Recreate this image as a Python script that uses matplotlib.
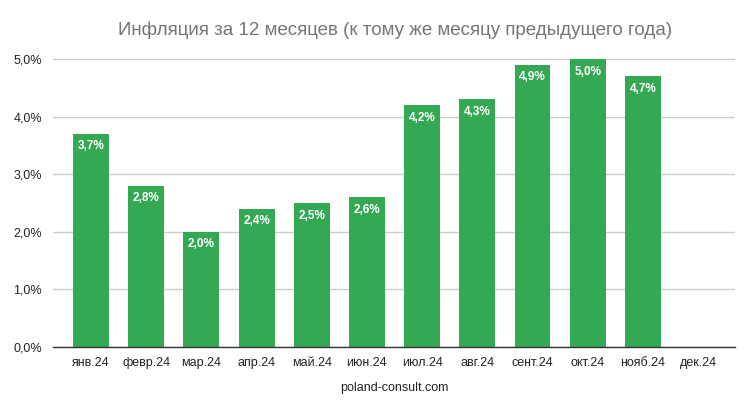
import numpy as np
import matplotlib
matplotlib.use("Agg")
import matplotlib.pyplot as plt
from matplotlib.ticker import FuncFormatter

plt.rcParams["font.family"] = ["Liberation Sans", "DejaVu Sans"]

MONTHS = ["янв.24", "февр.24", "мар.24", "апр.24", "май.24", "июн.24",
          "июл.24", "авг.24", "сент.24", "окт.24", "нояб.24", "дек.24"]
INFLATION = [3.7, 2.8, 2.0, 2.4, 2.5, 2.6, 4.2, 4.3, 4.9, 5.0, 4.7, np.nan]
Y_TICKS = [0, 1, 2, 3, 4, 5]

GREEN = "#34a853"

fig = plt.figure(figsize=(7.5, 4.13), dpi=100)
ax = fig.add_axes([53 / 750, 1 - 347 / 413, (735 - 53) / 750, (347 - 58) / 413])

x = np.arange(len(MONTHS))
bars = ax.bar(x, INFLATION, width=0.65, color=GREEN, zorder=3)

for xi, v in zip(x, INFLATION):
    if np.isnan(v):
        continue
    ax.annotate(f"{v:.1f}%".replace(".", ","), (xi, v), xytext=(0, -9),
                textcoords="offset points", ha="center", va="center",
                color="white", fontsize=8.5, fontweight="bold", zorder=4)

ax.set_xlim(-0.689, 11.67)
ax.set_ylim(0, 5.02)
ax.set_yticks(Y_TICKS)
ax.yaxis.set_major_formatter(FuncFormatter(lambda v, _: f"{v:.1f}%".replace(".", ",")))
ax.set_xticks(x)
ax.set_xticklabels(MONTHS)
ax.tick_params(axis="both", length=0, labelsize=9, colors="#222222")
ax.tick_params(axis="x", pad=7)
ax.tick_params(axis="y", pad=8)

ax.grid(axis="y", color="#cccccc", linewidth=1, zorder=0)
for s in ["top", "right", "left"]:
    ax.spines[s].set_visible(False)
ax.spines["bottom"].set_color("#333333")
ax.spines["bottom"].set_linewidth(1)
ax.spines["bottom"].set_zorder(5)

fig.text(395 / 750, 1 - 30 / 413, "Инфляция за 12 месяцев (к тому же месяцу предыдущего года)",
         ha="center", va="center", fontsize=13.5, color="#757575")
fig.text(394 / 750, 1 - 388 / 413, "poland-consult.com",
         ha="center", va="center", fontsize=9, color="#222222")

fig.savefig("out.png", dpi=100)
